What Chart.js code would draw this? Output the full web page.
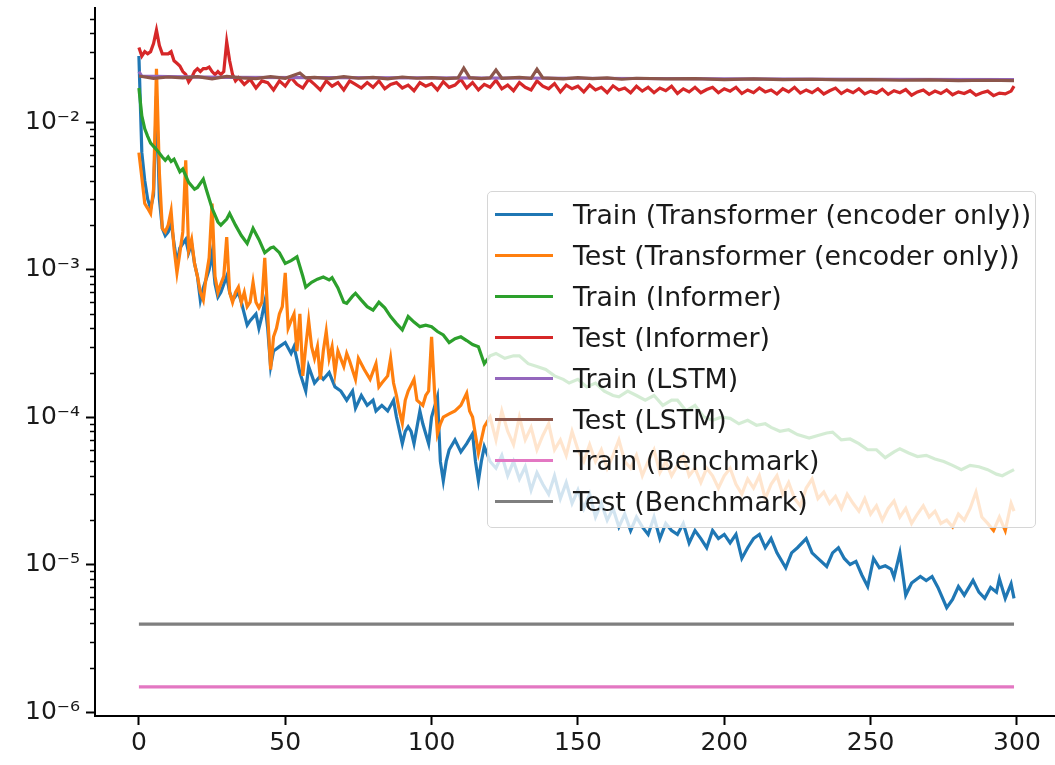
<!DOCTYPE html>
<html>
<head>
<meta charset="utf-8">
<script src="https://cdn.jsdelivr.net/npm/chart.js@4.4.1/dist/chart.umd.min.js"></script>
<style>
  html, body { margin: 0; padding: 0; background: #fff; overflow: hidden; }
  #wrap { position: relative; width: 1055px; height: 765px; }
  #legend {
    position: absolute; left: 487px; top: 191px; width: 549px; height: 337px;
    box-sizing: border-box; border: 1px solid #d6d6d6; border-radius: 5px;
    background: rgba(255, 255, 255, 0.8); padding-top: 2px;
    font-family: 'DejaVu Sans'; font-size: 26.8px; color: #1a1a1a;
  }
  .row { height: 41px; display: flex; align-items: center; white-space: nowrap; }
  .handle { width: 58px; height: 3px; margin-left: 7px; margin-right: 20px; flex: none; }
</style>
</head>
<body>
<div id="wrap">
  <canvas id="chart" width="1055" height="765"></canvas>
  <div id="legend"></div>
</div>
<script>
// series names + colours (matplotlib tab10)
var seriesNames = ['Train (Transformer (encoder only))', 'Test (Transformer (encoder only))',
    'Train (Informer)', 'Test (Informer)', 'Train (LSTM)', 'Test (LSTM)',
    'Train (Benchmark)', 'Test (Benchmark)'];
var seriesColors = ['#1f77b4', '#ff7f0e', '#2ca02c', '#d62728', '#9467bd', '#8c564b', '#e377c2', '#7f7f7f'];

// axis ticks
var xTicks = [0, 50, 100, 150, 200, 250, 300];
var yDecades = [1e-6, 1e-5, 1e-4, 1e-3, 1e-2];
var yTickLabels = ['10\u207B\u2076', '10\u207B\u2075', '10\u207B\u2074', '10\u207B\u00B3', '10\u207B\u00B2'];

// [epoch, loss]
var trainTransformer = [[0,0.028],[1,0.0062],[2,0.0040],[3,0.0030],[4,0.0026],[5,0.0032],[6,0.015],[7,0.0030],[8,0.0019],[9,0.0017],[10,0.0018],
  [11,0.0021],[12,0.0015],[13,0.0011],[14,0.0014],[16,0.0016],[17,0.0013],[18,0.0015],[19,0.0011],[20,0.0009],[21,0.00062],[22,0.00075],
  [24,0.0010],[25,0.0013],[26,0.0008],[27,0.00065],[28,0.0007],[30,0.0009],[31,0.0007],[32,0.00062],[34,0.0007],[35,0.0006],[37,0.00042],
  [38,0.00045],[40,0.0005],[41,0.0004],[42,0.00048],[43,0.0006],[44,0.0004],[45,0.00022],[46,0.00028],[48,0.0003],[50,0.00032],[52,0.00027],
  [53,0.0003],[55,0.0002],[57,0.00015],[58,0.00022],[60,0.00017],[62,0.00019],[63,0.00018],[65,0.0002],[67,0.00016],[69,0.00015],[71,0.00013],
  [73,0.00015],[74,0.000115],[76,0.00014],[78,0.00012],[80,0.00013],[81,0.00011],[83,0.00012],[85,0.00011],[87,0.00013],[88,0.0001],
  [90,0.000066],[91,0.00008],[92,0.000086],[93,0.00008],[94,0.000066],[96,0.00011],[97,0.00009],[99,0.000066],[100,0.0001],[102,0.000137],
  [103,0.00005],[104,0.000037],[105,0.00005],[106,0.00006],[108,0.00007],[110,0.000058],[112,0.000066],[114,0.000077],[115,0.00005],
  [116,0.000037],[117,0.00005],[118,0.000063],[120,0.00005],[122,0.000045],[124,0.000055],[126,0.00004],[128,0.00005],[130,0.000038],
  [132,0.000046],[134,0.000032],[136,0.000042],[138,0.000035],[140,0.00003],[142,0.00004],[144,0.000028],[146,0.000036],[148,0.000026],
  [150,0.000032],[152,0.000024],[154,0.00003],[156,0.000021],[158,0.000026],[160,0.00002],[162,0.000024],[164,0.000018],[166,0.000022],
  [168,0.000017],[170,0.000021],[172,0.000018],[174,0.000016],[176,0.000021],[178,0.000015],[180,0.000019],[182,0.000017],[184,0.000016],
  [186,0.000019],[188,0.000014],[190,0.000017],[192,0.000015],[194,0.000013],[196,0.000017],[198,0.000015],[200,0.000016],[202,0.000014],
  [204,0.000016],[206,0.000011],[208,0.000013],[210,0.000015],[212,0.000016],[214,0.000013],[216,0.000015],[218,0.000012],[221,0.0000095],
  [223,0.000012],[225,0.000013],[228,0.000015],[230,0.000012],[232,0.000011],[235,0.0000097],[237,0.000012],[239,0.000013],[241,0.000011],
  [243,0.00001],[245,0.0000105],[247,0.0000085],[249,0.0000071],[251,0.000011],[253,0.0000095],[255,0.0000098],[257,0.0000093],
  [258,0.0000082],[260,0.000012],[262,0.0000062],[264,0.0000075],[267,0.0000083],[269,0.0000078],[271,0.0000083],[273,0.000007],
  [276,0.0000051],[278,0.0000058],[280,0.0000071],[282,0.0000062],[285,0.0000078],[287,0.0000065],[289,0.0000059],[291,0.000007],
  [293,0.0000065],[294,0.000008],[296,0.0000059],[298,0.0000074],[299,0.0000059]];

var testTransformer = [[0,0.0062],[1,0.0042],[2,0.0028],[3,0.0026],[4,0.0024],[5,0.0035],[6,0.023],[7,0.0045],[8,0.0019],[9,0.0018],
  [10,0.002],[11,0.0025],[12,0.0014],[13,0.00095],[14,0.0013],[15,0.0018],[16,0.0055],[17,0.00135],[18,0.0016],[19,0.0011],[20,0.0009],
  [21,0.0007],[22,0.00062],[23,0.0009],[24,0.0012],[25,0.0028],[26,0.0009],[27,0.0007],[28,0.0008],[29,0.0009],[30,0.00166],[31,0.0007],
  [32,0.0006],[33,0.0007],[34,0.00076],[35,0.0006],[36,0.0007],[37,0.00056],[38,0.0006],[39,0.00082],[40,0.0006],[41,0.00055],[42,0.0006],
  [43,0.0012],[44,0.0005],[45,0.00021],[46,0.00035],[47,0.0004],[48,0.0005],[49,0.00056],[50,0.00095],[51,0.0004],[52,0.00045],[53,0.0005],
  [54,0.00028],[55,0.0005],[56,0.00019],[57,0.0003],[58,0.00045],[59,0.0003],[60,0.00025],[61,0.0003],[62,0.00018],[63,0.00028],[64,0.00038],
  [65,0.00025],[66,0.0003],[67,0.0002],[68,0.00028],[70,0.00022],[71,0.00027],[72,0.00024],[74,0.00018],[75,0.00025],[77,0.00021],
  [79,0.00018],[81,0.00023],[82,0.00016],[83,0.00017],[85,0.00019],[86,0.00025],[87,0.00017],[88,0.00014],[89,0.00011],[90,0.000091],
  [91,0.00013],[92,0.00015],[94,0.00018],[95,0.00013],[97,0.00012],[98,0.00014],[99,0.00015],[100,0.00035],[101,0.00015],[102,0.000077],
  [103,0.00009],[104,0.0001],[106,0.000105],[108,0.00011],[110,0.00012],[112,0.000145],[113,0.00011],[114,0.0001],[116,0.000057],
  [117,0.00007],[118,0.000086],[120,0.0001],[122,0.00007],[124,0.00011],[126,0.00008],[128,0.000065],[130,0.0001],[132,0.00007],
  [134,0.000085],[136,0.00006],[138,0.000075],[140,0.00009],[142,0.00006],[144,0.00007],[146,0.000055],[148,0.00008],[150,0.00006],
  [152,0.00005],[154,0.000065],[156,0.00005],[158,0.00006],[160,0.000045],[162,0.000055],[164,0.00007],[166,0.00005],[168,0.000045],
  [170,0.000055],[172,0.00004],[174,0.00005],[176,0.00006],[178,0.000042],[180,0.00005],[182,0.00004],[184,0.000047],[186,0.000055],
  [188,0.00004],[190,0.000045],[192,0.000036],[194,0.000045],[196,0.00004],[198,0.000033],[200,0.00004],[202,0.000045],[204,0.000035],
  [206,0.00003],[208,0.000038],[210,0.000033],[212,0.00004],[214,0.000028],[216,0.000035],[218,0.00004],[220,0.00003],[222,0.000036],
  [224,0.000028],[226,0.000025],[228,0.000033],[230,0.000038],[232,0.000028],[234,0.000031],[236,0.000026],[238,0.000029],[240,0.000024],
  [242,0.00003],[244,0.000026],[246,0.000023],[248,0.000028],[250,0.000022],[252,0.000025],[254,0.00002],[256,0.000024],[258,0.000027],
  [260,0.000021],[262,0.000024],[264,0.000019],[266,0.000022],[268,0.000025],[270,0.000021],[272,0.000023],[274,0.000019],[276,0.00002],
  [278,0.000018],[280,0.000022],[282,0.00002],[284,0.000024],[286,0.000031],[288,0.000021],[290,0.000019],[292,0.000017],[294,0.000021],
  [296,0.000017],[298,0.000026],[299,0.000023]];

var trainInformer = [[0,0.017],[1,0.011],[2,0.009],[3,0.008],[4,0.0072],[6,0.0065],[8,0.0058],[9,0.0055],[10,0.0058],[11,0.0054],
  [12,0.0056],[14,0.0046],[15,0.0048],[17,0.0039],[19,0.0035],[20,0.0036],[22,0.0041],[23,0.0035],[25,0.0026],[27,0.0021],[28,0.002],
  [30,0.0022],[31,0.0024],[33,0.002],[35,0.0017],[37,0.0015],[39,0.0019],[41,0.0016],[43,0.0013],[45,0.0014],[46,0.00142],[48,0.0013],
  [50,0.0011],[52,0.00115],[54,0.00122],[56,0.0009],[57,0.00076],[59,0.00082],[61,0.00086],[63,0.00089],[65,0.00085],[66,0.00088],
  [68,0.00075],[70,0.0006],[71,0.00059],[73,0.00066],[74,0.00069],[76,0.00062],[78,0.00056],[80,0.00053],[82,0.0006],[84,0.00055],
  [86,0.00048],[88,0.00043],[90,0.00039],[92,0.00048],[94,0.00044],[96,0.00041],[98,0.00042],[100,0.00041],[102,0.00038],[104,0.00036],
  [106,0.00032],[108,0.00034],[110,0.00035],[112,0.00033],[114,0.00031],[116,0.0003],[118,0.00023],[120,0.00026],[122,0.00027],
  [125,0.00025],[128,0.00026],[130,0.00026],[133,0.00023],[136,0.00022],[139,0.00021],[142,0.00019],[145,0.00018],[147,0.00017],
  [150,0.00018],[153,0.00016],[156,0.00017],[159,0.00015],[162,0.00014],[164,0.000137],[167,0.00015],[170,0.00014],[173,0.00013],
  [176,0.00014],[179,0.00012],[182,0.00013],[184,0.00013],[187,0.00011],[190,0.00012],[193,0.0001],[196,0.000095],[199,0.0001],
  [202,0.000098],[205,0.00009],[208,0.000095],[211,0.000088],[214,0.00009],[216,0.000085],[219,0.00008],[222,0.000082],[225,0.000076],
  [229,0.000072],[232,0.000075],[235,0.000078],[237,0.000079],[240,0.00007],[243,0.000071],[246,0.000066],[249,0.00006],[252,0.00006],
  [255,0.000053],[258,0.000058],[260,0.000061],[263,0.000057],[266,0.000054],[269,0.000055],[272,0.000052],[275,0.00005],[278,0.000047],
  [281,0.000044],[284,0.000047],[287,0.000046],[290,0.000044],[293,0.000041],[295,0.00004],[297,0.000042],[299,0.000044]];

var testInformer = [[0,0.032],[1,0.028],[2,0.03],[3,0.029],[4,0.03],[5,0.034],[6,0.042],[7,0.033],[8,0.029],[9,0.029],[10,0.029],
  [11,0.03],[12,0.026],[13,0.025],[14,0.024],[15,0.022],[16,0.021],[17,0.0187],[18,0.02],[19,0.022],[20,0.023],[21,0.022],[22,0.023],
  [23,0.023],[24,0.0236],[25,0.022],[26,0.021],[27,0.022],[28,0.021],[29,0.022],[30,0.035],[31,0.026],[32,0.021],[33,0.019],[34,0.02],
  [36,0.018],[38,0.0195],[40,0.017],[42,0.019],[44,0.0185],[46,0.0165],[48,0.019],[50,0.0175],[52,0.02],[54,0.018],[56,0.017],[58,0.0195],
  [60,0.018],[62,0.0165],[64,0.019],[66,0.0175],[68,0.0185],[70,0.0165],[72,0.019],[74,0.018],[76,0.017],[78,0.0185],[80,0.0172],
  [82,0.019],[84,0.0168],[86,0.018],[88,0.0185],[90,0.017],[92,0.0178],[94,0.0163],[96,0.0185],[98,0.0175],[100,0.0182],[102,0.0165],
  [104,0.0188],[106,0.0172],[108,0.0178],[110,0.0195],[112,0.017],[114,0.0185],[116,0.0165],[118,0.018],[120,0.0172],[122,0.0192],
  [124,0.0168],[126,0.0178],[128,0.0163],[130,0.0185],[132,0.0172],[134,0.0165],[136,0.019],[138,0.0175],[140,0.0168],[142,0.0182],
  [144,0.016],[146,0.0178],[148,0.0168],[150,0.0175],[152,0.016],[154,0.0178],[156,0.0165],[158,0.0172],[160,0.0158],[162,0.0176],
  [164,0.0165],[166,0.017],[168,0.0158],[170,0.0175],[172,0.0162],[174,0.0172],[176,0.0158],[178,0.017],[180,0.0163],[182,0.0175],
  [184,0.0156],[186,0.0168],[188,0.016],[190,0.0172],[192,0.0158],[194,0.0166],[196,0.0172],[198,0.0158],[200,0.0168],[202,0.0162],
  [204,0.0172],[206,0.0156],[208,0.0165],[210,0.0158],[212,0.017],[214,0.016],[216,0.0165],[218,0.0155],[220,0.0168],[222,0.016],
  [224,0.0172],[226,0.0157],[228,0.0165],[230,0.0158],[232,0.0168],[234,0.0155],[236,0.0163],[238,0.017],[240,0.0156],[242,0.0165],
  [244,0.0158],[246,0.0168],[248,0.0155],[250,0.0162],[252,0.0157],[254,0.0167],[256,0.0154],[258,0.0163],[260,0.0158],[262,0.0166],
  [264,0.0152],[266,0.016],[268,0.0165],[270,0.0154],[272,0.0162],[274,0.0156],[276,0.0165],[278,0.0153],[280,0.016],[282,0.0156],
  [284,0.0163],[286,0.0152],[288,0.0158],[290,0.0162],[292,0.0151],[294,0.0157],[296,0.0155],[298,0.0162],[299,0.0175]];

var trainLSTM = [[0,0.022],[1,0.0205],[10,0.0203],[30,0.0201],[60,0.02],[100,0.0199],[150,0.0198],[200,0.0196],[250,0.0195],[299,0.0194]];

var testLSTM = [[0,0.0205],[5,0.0198],[10,0.0202],[15,0.0199],[20,0.0203],[25,0.0196],[30,0.0204],[35,0.0199],[40,0.0197],[45,0.0203],
  [50,0.0198],[55,0.0215],[57,0.0199],[60,0.0201],[65,0.0197],[70,0.0203],[75,0.0198],[80,0.0201],[85,0.0196],[90,0.0202],[95,0.0198],
  [100,0.02],[105,0.0197],[109,0.0199],[111,0.0232],[113,0.02],[117,0.0197],[120,0.0199],[122,0.0225],[124,0.0198],[130,0.0201],
  [134,0.0198],[136,0.0228],[138,0.0199],[145,0.0196],[150,0.02],[155,0.0197],[160,0.0199],[165,0.0195],[170,0.0198],[180,0.0196],
  [190,0.0197],[200,0.0194],[210,0.0196],[220,0.0194],[230,0.0195],[240,0.0193],[250,0.0194],[260,0.0192],[270,0.0193],[280,0.0191],
  [290,0.0192],[299,0.0191]];

var trainBenchmark = [[0,1.48e-6],[299,1.48e-6]];
var testBenchmark = [[0,3.95e-6],[299,3.95e-6]];

var allSeries = [trainTransformer, testTransformer, trainInformer, testInformer, trainLSTM, testLSTM, trainBenchmark, testBenchmark];

// minor ticks 2..9 per decade
var yTickValues = [];
for (var e = -7; e <= -1; e++) {
    for (var k = 1; k <= 9; k++) {
        var v = k * Math.pow(10, e);
        if (v >= 9.4e-7 && v <= 0.0593) yTickValues.push(k === 1 ? Math.pow(10, e) : v);
    }
}
function isDecade(v) {
    return yDecades.some(function (d) { return Math.abs(v / d - 1) < 1e-9; });
}

var minorTicks = {
    id: 'minorTicks',
    afterDraw: function (chart) {
        var y = chart.scales.y, ctx = chart.ctx;
        ctx.save();
        ctx.strokeStyle = '#000';
        ctx.lineWidth = 1.5;
        y.ticks.forEach(function (t) {
            if (isDecade(t.value)) return;
            var py = Math.round(y.getPixelForValue(t.value)) + 0.5;
            ctx.beginPath();
            ctx.moveTo(y.right - 5, py);
            ctx.lineTo(y.right, py);
            ctx.stroke();
        });
        ctx.restore();
    }
};

var font = { family: 'DejaVu Sans', size: 25 };

var chart = new Chart(document.getElementById('chart'), {
    type: 'line',
    data: {
        datasets: allSeries.map(function (s, i) {
            return {
                label: seriesNames[i],
                data: s.map(function (p) { return { x: p[0], y: p[1] }; }),
                borderColor: seriesColors[i],
                backgroundColor: seriesColors[i],
                borderWidth: 3.2,
                pointRadius: 0,
                tension: 0,
                fill: false,
                order: allSeries.length - i
            };
        })
    },
    options: {
        responsive: false,
        animation: false,
        layout: { padding: { top: 8, left: 0, right: 0, bottom: 0 } },
        plugins: { legend: { display: false }, tooltip: { enabled: false } },
        scales: {
            x: {
                type: 'linear', min: -15, max: 313,
                afterBuildTicks: function (s) { s.ticks = xTicks.map(function (v) { return { value: v }; }); },
                afterFit: function (s) { s.height = 49; s.paddingLeft = 0; s.paddingRight = 0; },
                grid: { drawOnChartArea: false, tickLength: 9, tickWidth: 2, tickColor: '#000' },
                border: { color: '#000', width: 2 },
                ticks: { font: font, color: '#1a1a1a', padding: 3, maxRotation: 0, autoSkip: false }
            },
            y: {
                type: 'logarithmic', min: 9.4e-7, max: 0.0593,
                afterBuildTicks: function (s) { s.ticks = yTickValues.map(function (v) { return { value: v }; }); },
                afterFit: function (s) { s.width = 95; s.paddingTop = 0; s.paddingBottom = 0; },
                grid: {
                    drawOnChartArea: false, tickLength: 9, tickWidth: 2,
                    tickColor: function (c) { return c.tick && isDecade(c.tick.value) ? '#000' : 'rgba(0,0,0,0)'; }
                },
                border: { color: '#000', width: 2 },
                ticks: {
                    font: font, color: '#1a1a1a', padding: 6, autoSkip: false,
                    callback: function (value) {
                        for (var i = 0; i < yDecades.length; i++) {
                            if (Math.abs(value / yDecades[i] - 1) < 1e-9) return yTickLabels[i];
                        }
                        return '';
                    }
                }
            }
        }
    },
    plugins: [minorTicks]
});

// legend box inside the plot
var legendBox = document.getElementById('legend');
chart.data.datasets.forEach(function (ds) {
    var row = document.createElement('div');
    row.className = 'row';
    var h = document.createElement('span');
    h.className = 'handle';
    h.style.background = ds.borderColor;
    var t = document.createElement('span');
    t.textContent = ds.label;
    row.appendChild(h);
    row.appendChild(t);
    legendBox.appendChild(row);
});
</script>
</body>
</html>
